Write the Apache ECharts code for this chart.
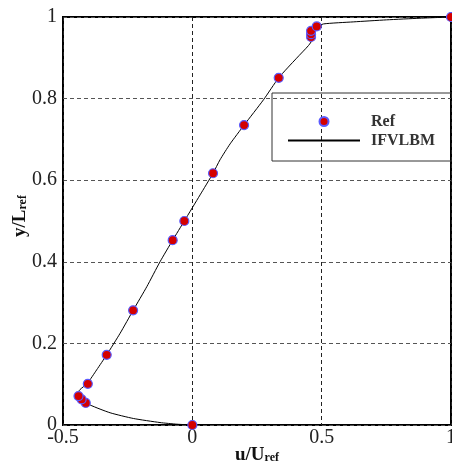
<!DOCTYPE html>
<html lang="en">
  <head>
    <meta charset="utf-8" />
    <title>u/Uref profile</title>
    <style>
      html,
      body {
        margin: 0;
        padding: 0;
        background: #fff;
      }
      #chart {
        width: 452px;
        height: 472px;
      }
    </style>
  </head>
  <body>
    <div id="chart"></div>

    <script src="https://cdn.jsdelivr.net/npm/echarts@6.0.0/dist/echarts.min.js"></script>
    <script type="text/javascript">
      // Ref points (u/Uref, y/Lref)
      var refU = [0, -0.412, -0.428, -0.44, -0.404, -0.331, -0.229, -0.076, -0.031, 0.08, 0.2, 0.334, 0.459, 0.459, 0.459, 0.481, 1];
      var refY = [0, 0.054, 0.063, 0.071, 0.101, 0.172, 0.281, 0.453, 0.5, 0.617, 0.735, 0.851, 0.951, 0.958, 0.966, 0.977, 1];

      // IFVLBM curve, read along the line from the bottom
      var lbmU = [0, -0.06, -0.125, -0.228, -0.318, -0.395, -0.434, -0.443, -0.434, -0.406, -0.37, -0.331, -0.279, -0.228, -0.176, -0.125, -0.076, -0.031, 0.03, 0.08, 0.107, 0.146, 0.2, 0.275, 0.334, 0.403, 0.449, 0.468, 0.472, 0.481, 0.507, 0.622, 0.751, 0.88, 1];
      var lbmY = [0, 0.002, 0.006, 0.016, 0.03, 0.049, 0.065, 0.078, 0.087, 0.102, 0.135, 0.172, 0.225, 0.282, 0.339, 0.4, 0.453, 0.5, 0.564, 0.617, 0.65, 0.689, 0.735, 0.797, 0.851, 0.899, 0.93, 0.948, 0.964, 0.975, 0.983, 0.988, 0.993, 0.997, 1];

      var xTicks = [-0.5, 0, 0.5, 1];
      var yTicks = [0, 0.2, 0.4, 0.6, 0.8, 1];

      var refData = [];
      for (var i = 0; i < refU.length; ++i) {
        refData.push([refU[i], refY[i]]);
      }
      var lbmData = [];
      for (var j = 0; j < lbmU.length; ++j) {
        lbmData.push([lbmU[j], lbmY[j]]);
      }

      var serif = "'Liberation Serif', 'DejaVu Serif', serif";
      var nameRich = {
        a: {
          fontFamily: serif,
          fontSize: 19,
          fontWeight: "bold",
          color: "#111",
          lineHeight: 18,
          verticalAlign: "top",
        },
        b: {
          fontFamily: serif,
          fontSize: 12,
          fontWeight: "bold",
          color: "#111",
          lineHeight: 12,
          padding: [10, 0, 0, 0],
          verticalAlign: "bottom",
        },
      };

      var myChart = echarts.init(document.getElementById("chart"));
      myChart.setOption({
        animation: false,
        grid: {
          left: 63,
          right: 1,
          top: 17,
          bottom: 47,
          outerBoundsMode: "none",
          containLabel: false,
          show: true,
          borderColor: "#000",
          borderWidth: 2,
        },
        legend: {
          data: [
            { name: "Ref", icon: "circle" },
            // hide the dot that the line icon gets by default
            { name: "IFVLBM", itemStyle: { opacity: 0 } },
          ],
          orient: "vertical",
          left: 272,
          top: 93,
          itemWidth: 72,
          itemHeight: 9,
          itemGap: 0,
          padding: [19, 21, 11, 15],
          borderColor: "#333",
          borderWidth: 1,
          backgroundColor: "transparent",
          textStyle: {
            fontFamily: serif,
            fontSize: 16,
            fontWeight: "bold",
            color: "#333",
            lineHeight: 19,
            padding: [0, 0, 0, 6],
          },
        },
        xAxis: {
          type: "value",
          min: -0.5,
          max: 1,
          interval: 0.5,
          name: "{a|u/U}{b|ref}",
          nameLocation: "middle",
          nameGap: 21,
          nameMoveOverlap: false,
          nameTextStyle: { rich: nameRich },
          axisLine: { show: false },
          axisTick: { show: false },
          axisLabel: {
            fontFamily: serif,
            fontSize: 20,
            color: "#222",
            margin: 3,
            customValues: xTicks,
          },
          splitLine: {
            show: true,
            lineStyle: { color: "#222", type: [4, 3], width: 1 },
          },
        },
        yAxis: {
          type: "value",
          min: 0,
          max: 1,
          interval: 0.2,
          name: "{a|y/L}{b|ref}",
          nameLocation: "middle",
          nameRotate: 90,
          nameGap: 34,
          nameMoveOverlap: false,
          nameTextStyle: { rich: nameRich, padding: [0, 0, 0, 10] },
          axisLine: { show: false },
          axisTick: { show: false },
          axisLabel: {
            fontFamily: serif,
            fontSize: 20,
            color: "#222",
            margin: 6,
            customValues: yTicks,
          },
          splitLine: {
            show: true,
            lineStyle: { color: "#555", type: [4, 3], width: 1 },
          },
        },
        series: [
          {
            name: "IFVLBM",
            type: "line",
            data: lbmData,
            symbol: "none",
            smooth: 0.2,
            lineStyle: { color: "#000", width: 1 },
            itemStyle: { color: "#000" },
            z: 2,
          },
          {
            name: "Ref",
            type: "scatter",
            data: refData,
            symbol: "circle",
            symbolSize: 9,
            itemStyle: {
              color: "#d40000",
              borderColor: "#5a5aff",
              borderWidth: 1.2,
              opacity: 1,
            },
            z: 3,
          },
        ],
      });
    </script>
  </body>
</html>
